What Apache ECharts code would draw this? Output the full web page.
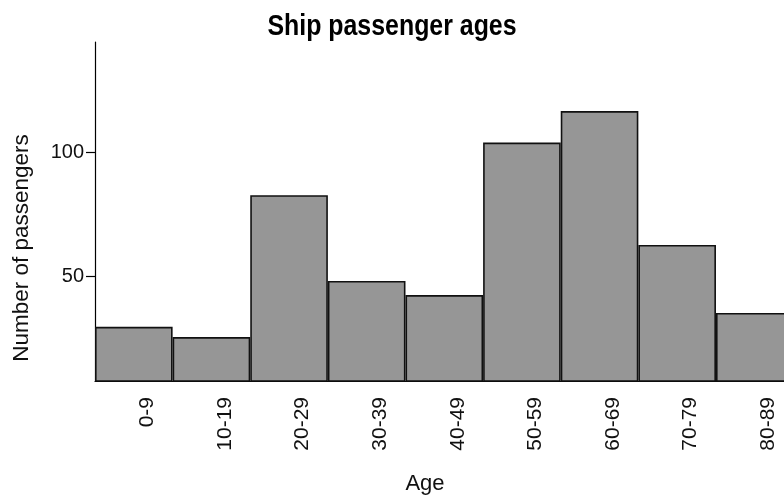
<!DOCTYPE html>
<html>
<head>
<meta charset="utf-8">
<script src="https://cdn.jsdelivr.net/npm/echarts@6/dist/echarts.min.js"></script>
<style>
  html, body { margin: 0; padding: 0; background: #fff; }
  #chart { width: 784px; height: 495px; }
</style>
</head>
<body>
<div id="chart"></div>
<script>
var myChart = echarts.init(document.getElementById('chart'));

// age groups and passenger counts
var ageGroups = ['0-9', '10-19', '20-29', '30-39', '40-49', '50-59', '60-69', '70-79', '80-89'];
var passengers = [29.7, 25.6, 82.7, 48.2, 42.5, 103.9, 116.6, 62.7, 35.3];
var yTicks = [50, 100];

var textFont = 'Liberation Sans, Arial, sans-serif';

var option = {
    animation: false,
    grid: {
        left: 95,
        top: 42,
        bottom: 114,
        width: 698.6,   // last bar runs past the right edge
        outerBoundsMode: 'none'
    },
    graphic: [
        {
            // title is a condensed bold face in the reference, squeeze it horizontally
            type: 'text',
            x: 392,
            y: 27,
            scaleX: 0.83,
            style: {
                text: 'Ship passenger ages',
                fontFamily: textFont,
                fontWeight: 'bold',
                fontSize: 30,
                fill: '#000',
                textAlign: 'center',
                textVerticalAlign: 'middle'
            }
        },
        {
            // y axis title, centred lower than the axis middle like the reference
            type: 'text',
            x: 22,
            y: 248,
            rotation: Math.PI / 2,
            style: {
                text: 'Number of passengers',
                fontFamily: textFont,
                fontSize: 22.5,
                fill: '#111',
                textAlign: 'center',
                textVerticalAlign: 'middle'
            }
        },
        {
            type: 'text',
            x: 425,
            y: 484,
            style: {
                text: 'Age',
                fontFamily: textFont,
                fontSize: 22,
                fill: '#111',
                textAlign: 'center',
                textVerticalAlign: 'middle'
            }
        }
    ],
    xAxis: {
        type: 'category',
        data: ageGroups,
        axisLine: {
            show: true,
            lineStyle: { color: '#000', width: 1.2 }
        },
        axisTick: { show: false },
        axisLabel: {
            rotate: 90,
            margin: 16,
            align: 'right',
            verticalAlign: 'top',
            lineHeight: 27,
            fontFamily: textFont,
            fontSize: 21,
            color: '#111'
        },
        splitLine: { show: false }
    },
    yAxis: {
        type: 'value',
        min: 7.9,
        max: 144.4,
        axisLine: {
            show: true,
            lineStyle: { color: '#000', width: 1.2 }
        },
        axisTick: {
            show: true,
            length: 9,
            customValues: yTicks,
            lineStyle: { color: '#000', width: 1.2 }
        },
        axisLabel: {
            margin: 11,
            customValues: yTicks,
            fontFamily: textFont,
            fontSize: 20,
            color: '#111'
        },
        splitLine: { show: false }
    },
    series: [
        {
            type: 'bar',
            data: passengers,
            barCategoryGap: 0,
            itemStyle: {
                color: '#969696',
                borderColor: '#111',
                borderWidth: 1.6
            }
        }
    ]
};
myChart.setOption(option);
</script>
</body>
</html>
